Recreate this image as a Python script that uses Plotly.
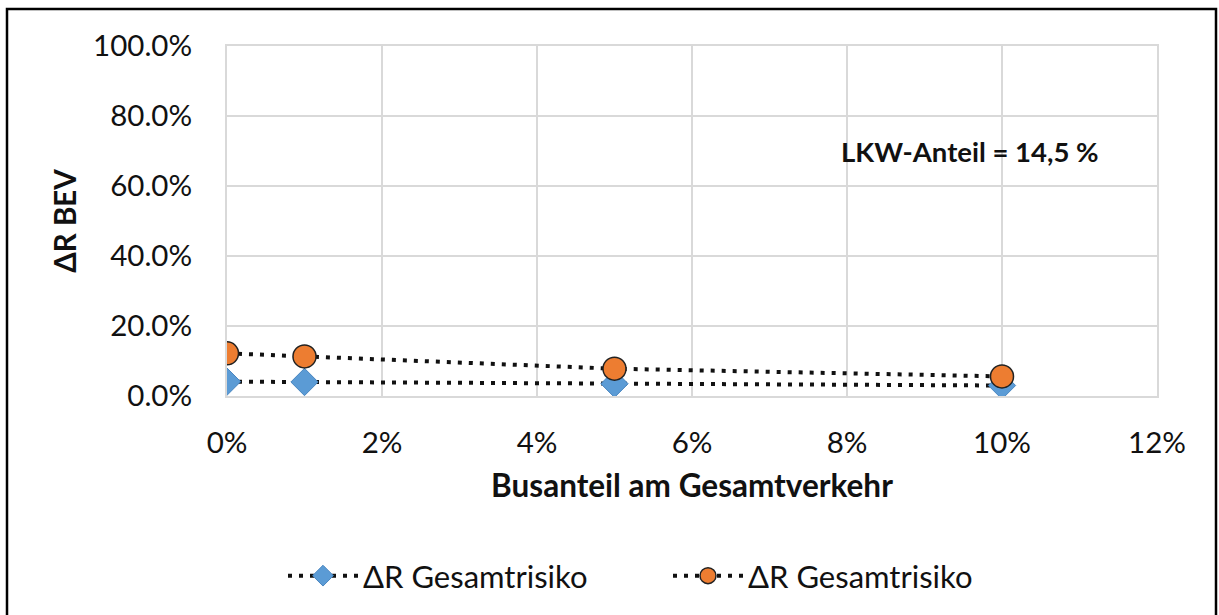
import plotly.graph_objects as go

# Busanteil am Gesamtverkehr (share of buses in total traffic)
bus_share = [0.00, 0.01, 0.05, 0.10]
# ΔR Gesamtrisiko, two scenarios
delta_r_blue = [0.041, 0.040, 0.035, 0.030]
delta_r_orange = [0.122, 0.113, 0.078, 0.056]

series_name = "ΔR Gesamtrisiko"
x_title = "Busanteil am Gesamtverkehr"
y_title = "ΔR BEV"
note = "LKW-Anteil = 14,5 %"

W, H = 1219, 615
L, R, T, B = 227, 62, 46, 219
pw, ph = W - L - R, H - T - B

font = "Lato, Calibri, Carlito, sans-serif"
dot_line = dict(color="#111111", width=4, dash="4px,7px")

fig = go.Figure()
fig.add_trace(go.Scatter(
    x=bus_share, y=delta_r_blue, name=series_name, mode="lines+markers",
    line=dot_line,
    marker=dict(symbol="diamond", size=21, color="#5B9BD5",
                line=dict(color="#4A86C0", width=1)),
))
fig.add_trace(go.Scatter(
    x=bus_share, y=delta_r_orange, name=series_name, mode="lines+markers",
    line=dot_line,
    marker=dict(symbol="circle", size=23, color="#ED7D31",
                line=dict(color="#222222", width=1.5)),
))

fig.add_annotation(
    text=f"<b>{note}</b>", x=(970 - L) / pw, y=(H - B - 151) / ph,
    xref="paper", yref="paper", xanchor="center", yanchor="middle",
    showarrow=False,
    font=dict(family=font, size=27.5, color="#111111"),
)

# outer frame around the whole chart
fig.add_shape(
    type="rect", xref="paper", yref="paper",
    x0=(7 - L) / pw, x1=(1216 - L) / pw,
    y0=(H - B - 625) / ph, y1=(H - B - 9) / ph,
    line=dict(color="#000000", width=2.5), fillcolor="rgba(0,0,0,0)",
    layer="below",
)

grid = "#D9D9D9"
fig.update_layout(
    width=W, height=H,
    margin=dict(l=L, r=R, t=T, b=B),
    paper_bgcolor="white", plot_bgcolor="white",
    font=dict(family=font, size=29.5, color="#111111"),
    showlegend=True,
    legend=dict(
        orientation="h", x=(283 - L) / pw, xanchor="left",
        y=(H - B - 576) / ph, yanchor="middle",
        font=dict(family=font, size=31, color="#111111"),
        itemwidth=70, tracegroupgap=0,
        entrywidth=300, entrywidthmode="pixels",
    ),
    xaxis=dict(
        range=[0, 0.12], dtick=0.02, tickformat=".0%",
        showgrid=True, gridcolor=grid, gridwidth=2,
        showline=True, linecolor=grid, linewidth=2, mirror=True,
        zeroline=False, ticks="", ticklabelstandoff=20,
        title=dict(text=f"<b>{x_title}</b>", standoff=17,
                   font=dict(family=font, size=31.5)),
    ),
    yaxis=dict(
        range=[0, 1], dtick=0.2, tickformat=".1%",
        showgrid=True, gridcolor=grid, gridwidth=2,
        showline=True, linecolor=grid, linewidth=2, mirror=True,
        zeroline=False, ticks="", ticklabelstandoff=27,
        title=dict(text=f"<b>{y_title}</b>", standoff=8,
                   font=dict(family=font, size=29.5)),
    ),
)

fig.write_html("out.html")
